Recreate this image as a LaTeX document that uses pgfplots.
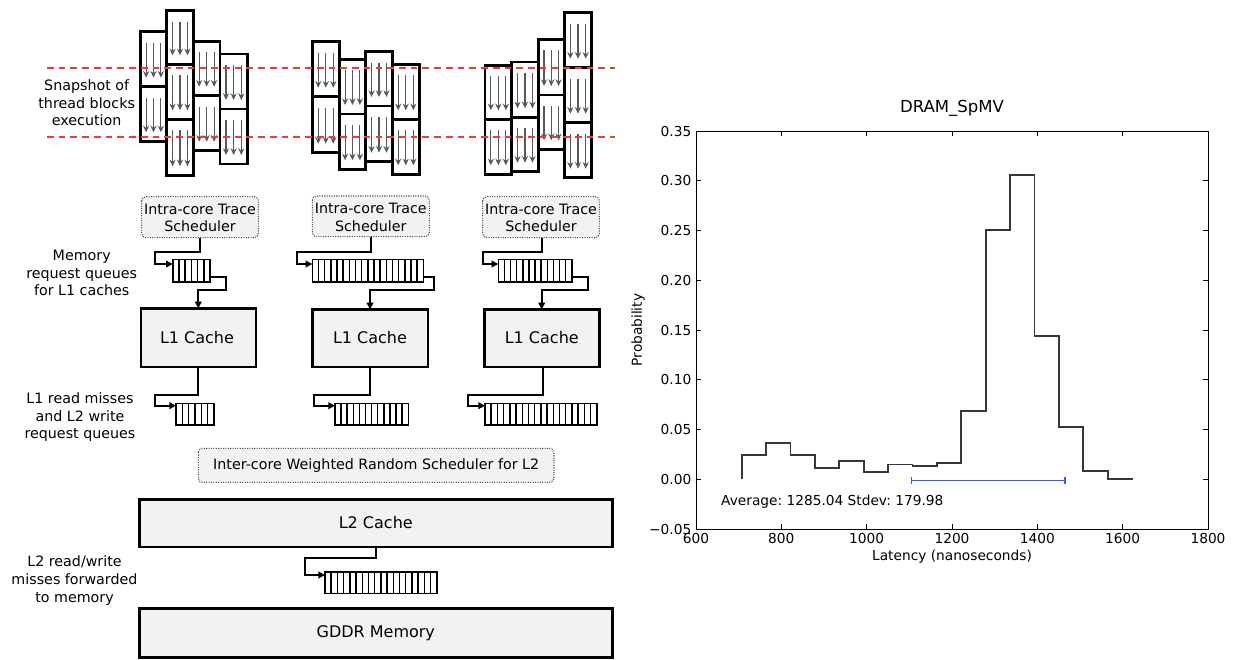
\documentclass[border=0pt]{standalone}
\usepackage{fontspec}
\setmainfont{DejaVu Sans}
\usepackage{pgfplots}
\pgfplotsset{compat=1.18}
\usetikzlibrary{arrows.meta}
\definecolor{boxfill}{RGB}{242,242,242}
\definecolor{snapred}{RGB}{240,60,40}
\definecolor{ebar}{RGB}{60,90,235}
\definecolor{histc}{RGB}{55,55,55}
\newcommand\smallf{\fontsize{10.7}{13.2}\selectfont}
\newcommand\boxf{\fontsize{12}{14}\selectfont}
\newcommand\chartf{\fontsize{10.3}{12}\selectfont}
\frenchspacing
\begin{document}
\begin{tikzpicture}
\useasboundingbox (0,0) rectangle (927pt,-495pt);
\begin{scope}[x=0.75pt,y=-0.75pt,
  blk/.style={draw=black,line width=2.1pt},
  tharr/.style={draw=black!65,line width=0.9pt,-{Stealth[length=5pt,width=4.6pt]}},
  conn/.style={line width=1.5pt,line join=miter,-{Triangle[length=5pt,width=5pt]}},
  sched/.style={draw=black!70,densely dotted,line width=0.8pt,fill=boxfill,rounded corners=3pt},
  cache/.style={draw=black,line width=1.8pt,fill=boxfill}]
% thread blocks
\foreach \xa/\xb/\ya/\yb in {
 140.3/166.7/31.7/86.7, 140.3/166.7/86.7/141.3,
 166.7/193.3/10.7/64.3, 166.7/193.3/64.3/119.3, 166.7/193.3/119.3/175.3,
 193.3/220/41.3/95.7, 193.3/220/95.7/150.7,
 220/247.3/54/109, 220/247.3/109/164,
 312.3/339.3/41.7/96.7, 312.3/339.3/96.7/152.7,
 339.3/365.7/59.3/114, 339.3/365.7/114/169.3,
 365.7/392.3/51.7/106, 365.7/392.3/106/161.7,
 392.3/419.3/64.3/119.3, 392.3/419.3/119.3/174.3,
 485/511.7/65.3/119.3, 485/511.7/119.3/174.3,
 511.7/538.3/62/117.3, 511.7/538.3/117.3/171.7,
 538.3/564.3/39.3/95, 538.3/564.3/95/149.3,
 564.3/591.7/12.7/67.7, 564.3/591.7/67.7/122.7, 564.3/591.7/122.7/177.7}
{
  \draw[blk] (\xa,\ya) rectangle (\xb,\yb);
  \foreach \f in {0.22,0.5,0.78}
    \draw[tharr] ({\xa+\f*(\xb-\xa)},{\ya+11}) -- ({\xa+\f*(\xb-\xa)},{\yb-9});
}
\draw[snapred,line width=1.2pt,dash pattern=on 5pt off 3.8pt] (47,68) -- (615,68);
\draw[snapred,line width=1.2pt,dash pattern=on 5pt off 3.8pt] (47,137) -- (615,137);
\node[font=\smallf,align=center] at (86.7,103) {Snapshot of\\thread blocks\\execution};
% schedulers
\draw[sched] (141.7,196.7) rectangle (258.3,237.7);
\node[font=\smallf,align=center] at (200,218) {Intra-core Trace\\Scheduler};
\draw[sched] (312.3,196) rectangle (429.3,236.7);
\node[font=\smallf,align=center] at (370.8,217.5) {Intra-core Trace\\Scheduler};
\draw[sched] (482.7,196.7) rectangle (599.3,237.7);
\node[font=\smallf,align=center] at (541,218) {Intra-core Trace\\Scheduler};
% queues
\foreach \qa/\qb/\qc/\qd/\qn in {172.7/210/259.3/281.7/6, 312.3/423.3/259.3/281.7/18,
  498.3/571.7/259.3/281.7/12, 176/214/403.3/425/6, 335/408.3/403.3/425/12,
  485/596.7/403.3/425/18, 325/436.7/571.7/593.3/18}
{
  \draw[line width=1.2pt] (\qa,\qc) rectangle (\qb,\qd);
  \pgfmathtruncatemacro\m{\qn-1}
  \foreach \i in {1,...,\m}
    \draw[line width=1.1pt] ({\qa+\i*(\qb-\qa)/\qn},\qc) -- ({\qa+\i*(\qb-\qa)/\qn},\qd);
}
% connectors
\draw[conn] (200,237.7) -- (200,251.7) -- (155,251.7) -- (155,264) -- (172.7,264);
\draw[conn] (210,277) -- (226,277) -- (226,290) -- (198.3,290) -- (198.3,308.3);
\draw[conn] (370.7,236.7) -- (370.7,251.7) -- (297,251.7) -- (297,264) -- (312.3,264);
\draw[conn] (423.3,277) -- (434,277) -- (434,290) -- (370,290) -- (370,309.3);
\draw[conn] (541.7,237.7) -- (541.7,251.7) -- (482.7,251.7) -- (482.7,264) -- (498.3,264);
\draw[conn] (571.7,277) -- (588.3,277) -- (588.3,290) -- (541.7,290) -- (541.7,309.3);
\draw[conn] (198.3,366.7) -- (198.3,395) -- (155,395) -- (155,405.7) -- (176,405.7);
\draw[conn] (370,366.7) -- (370,395) -- (314,395) -- (314,405.7) -- (335,405.7);
\draw[conn] (542.7,366.7) -- (542.7,395) -- (467.7,395) -- (467.7,405.7) -- (485,405.7);
\draw[conn] (376,546.7) -- (376,558.3) -- (305,558.3) -- (305,575) -- (325,575);
% L1 caches
\draw[cache] (140.7,308.3) rectangle (255.7,366.7);
\node[font=\boxf] at (197,337.7) {L1 Cache};
\draw[cache] (312.3,309.3) rectangle (427.7,366.7);
\node[font=\boxf] at (370,338) {L1 Cache};
\draw[cache] (484.3,309.3) rectangle (599.3,366.7);
\node[font=\boxf] at (541.8,338) {L1 Cache};
% left labels
\node[font=\smallf,align=center] at (81.7,273) {Memory\\request queues\\for L1 caches};
\node[font=\smallf,align=center] at (80,417.3) {L1 read misses\\and L2 write\\request queues};
\node[font=\smallf,align=center] at (74.5,580.5) {L2 read/write\\misses forwarded\\to memory};
% inter-core scheduler
\draw[sched] (198.3,448.3) rectangle (554,482.3);
\node[font=\smallf] at (376.2,465.7) {Inter-core Weighted Random Scheduler for L2};
% L2 and memory
\draw[cache] (139.3,499.3) rectangle (612.3,546.7);
\node[font=\boxf] at (375.8,522.7) {L2 Cache};
\draw[cache] (139.3,608.3) rectangle (612.3,657.5);
\node[font=\boxf] at (375.8,633.3) {GDDR Memory};
\end{scope}

\begin{axis}[
  at={(522pt,-396.75pt)}, anchor=south west,
  width=384pt, height=298.5pt, scale only axis,
  xmin=600, xmax=1800, ymin=-0.05, ymax=0.35,
  scaled ticks=false,
  xtick={600,800,1000,1200,1400,1600,1800},
  xticklabels={600,800,1000,1200,1400,1600,1800},
  ytick={-0.05,0,0.05,0.1,0.15,0.2,0.25,0.3,0.35},
  yticklabels={−0.05,0.00,0.05,0.10,0.15,0.20,0.25,0.30,0.35},
  /pgf/number format/assume math mode=true,
  tick align=inside, tick pos=both,
  xticklabel pos=lower, yticklabel pos=left,
  major tick length=3.5pt,
  tick style={black,line width=0.6pt},
  axis line style={line width=0.75pt},
  ticklabel style={font=\chartf},
  title={DRAM\_SpMV},
  title style={font=\fontsize{12.4}{14}\selectfont,at={(axis description cs:0.5,1.0377)},anchor=center},
  xlabel={Latency (nanoseconds)},
  ylabel={Probability},
  xlabel style={font=\chartf,at={(axis description cs:0.5,-0.0704)},anchor=center},
  ylabel style={font=\chartf,at={(axis description cs:-0.1133,0.5)},anchor=center,rotate=0},
]
\addplot[const plot, histc, line width=1.3pt] coordinates {
 (707,0) (707,0.0241) (764.2,0.0361) (821.4,0.0241) (878.6,0.0113)
 (935.8,0.0184) (993,0.0073) (1050.2,0.0147) (1107.4,0.0134) (1164.6,0.0164)
 (1221.8,0.0689) (1279,0.2506) (1336.2,0.3055) (1393.4,0.1442) (1450.6,0.0528)
 (1507.8,0.0086) (1565,0.0002) (1622.2,0.0002) (1622.2,0)};
\addplot[ebar, line width=1pt, mark=none,
  error bars/.cd, x dir=both, x explicit,
  error bar style={ebar,line width=1pt},
  error mark options={ebar,mark size=2.5pt,line width=1pt,rotate=90}]
  coordinates {(1285.04,-0.0012) +- (179.98,0)};
\node[font=\chartf,anchor=west] at (axis cs:648,-0.0225) {Average: 1285.04 Stdev: 179.98};
\end{axis}
\end{tikzpicture}
\end{document}
